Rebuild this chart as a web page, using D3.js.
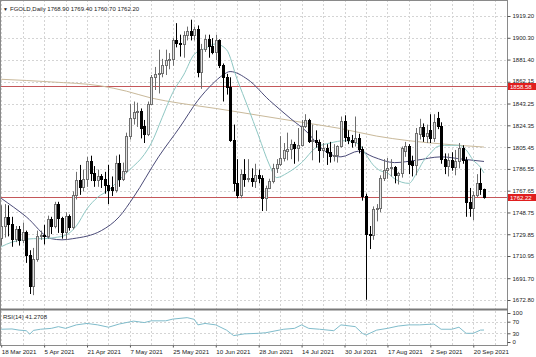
<!DOCTYPE html>
<html><head><meta charset="utf-8">
<script src="https://cdn.jsdelivr.net/npm/d3@7/dist/d3.min.js"></script>
<style>
body{margin:0;background:#fff}
svg{display:block}
text{font-family:"Liberation Sans",Arial,sans-serif}
</style>
</head><body>
<svg id="chart" width="536" height="357"></svg>
<script>
// ---------------- DATA ----------------
const symbolTitle = "FGOLD,Daily";
const lastBar = ["1768.90", "1769.40", "1760.70", "1762.20"];

const openP  = [1727,1737,1745,1739,1726,1734,1725,1732,1712,1685,1708,1728,1729,1728,1743,1737,1756,1744,1732,1746,
1736,1764,1777,1771,1778,1793,1783,1777,1780,1778,1773,1771,1768,1792,1778,1785,1815,1831,1836,1837,
1824,1817,1843,1866,1869,1870,1877,1881,1882,1898,1896,1895,1903,1906,1903,1908,1871,1891,1899,1893,
1888,1898,1877,1866,1858,1812,1774,1764,1782,1778,1779,1776,1781,1779,1761,1770,1776,1787,1791,1796,
1802,1804,1808,1805,1807,1824,1829,1811,1812,1810,1803,1805,1801,1798,1799,1806,1828,1814,1812,1810,
1813,1804,1763,1730,1729,1752,1753,1779,1786,1787,1788,1781,1783,1802,1806,1793,1790,1817,1823,1815,
1820,1813,1831,1824,1795,1789,1794,1788,1793,1805,1794,1758,1753,1764,1774,1768.9];
const highP  = [1755,1756,1755,1745,1737,1737,1740,1733,1716,1718,1733,1733,1738,1746,1745,1758,1758,1745,1749,1747,
1767,1784,1790,1786,1797,1798,1789,1786,1782,1784,1790,1780,1798,1799,1792,1818,1843,1845,1844,1839,
1829,1845,1868,1875,1890,1882,1890,1887,1900,1913,1903,1906,1910,1916,1910,1911,1895,1903,1903,1900,
1903,1899,1878,1869,1866,1825,1795,1786,1795,1795,1787,1791,1786,1781,1772,1778,1791,1795,1815,1809,
1818,1812,1810,1822,1829,1834,1830,1825,1820,1812,1809,1808,1810,1808,1807,1832,1833,1820,1816,1832,
1817,1806,1765,1737,1754,1756,1781,1795,1796,1795,1789,1784,1806,1810,1808,1798,1822,1830,1826,1825,
1834,1834,1836,1827,1800,1800,1801,1803,1809,1807,1797,1770,1767,1782,1787,1769.4];
const lowP   = [1720,1727,1728,1719,1723,1720,1722,1705,1678,1677,1706,1725,1721,1726,1730,1735,1731,1726,1725,1733,
1734,1760,1764,1767,1771,1776,1771,1771,1770,1765,1756,1763,1766,1771,1776,1783,1812,1825,1823,1813,
1809,1815,1842,1855,1852,1866,1868,1873,1876,1892,1884,1883,1898,1898,1898,1866,1856,1888,1883,1886,
1881,1874,1845,1851,1810,1767,1761,1761,1771,1775,1771,1770,1774,1750,1750,1769,1774,1783,1789,1793,
1794,1795,1791,1793,1806,1822,1809,1794,1805,1792,1796,1790,1792,1793,1792,1805,1810,1808,1805,1806,
1800,1759,1673,1717,1725,1741,1749,1776,1778,1780,1774,1773,1779,1797,1782,1780,1781,1812,1810,1809,
1809,1810,1821,1791,1782,1780,1785,1781,1787,1791,1745,1745,1742,1762,1764,1760.7];
const closeP = [1737,1745,1739,1726,1734,1725,1732,1712,1685,1708,1728,1729,1728,1743,1737,1756,1744,1732,1746,1736,
1764,1777,1771,1778,1793,1783,1777,1780,1778,1773,1768,1768,1792,1778,1785,1815,1831,1836,1837,1822,
1817,1843,1866,1869,1870,1877,1881,1882,1898,1896,1895,1903,1906,1903,1908,1871,1891,1899,1893,1888,
1898,1877,1866,1858,1812,1774,1764,1782,1778,1779,1776,1781,1779,1761,1770,1776,1787,1791,1796,1803,
1804,1808,1805,1807,1824,1829,1811,1812,1810,1803,1805,1801,1798,1799,1806,1828,1814,1812,1810,1813,
1804,1763,1730,1729,1752,1753,1779,1786,1787,1788,1781,1783,1805,1806,1791,1790,1818,1823,1815,1818,
1813,1827,1824,1795,1789,1794,1788,1793,1805,1794,1758,1753,1764,1774,1768.9,1762.2];

// fast moving average (teal) read at bar positions
const fastMaBar = [0,3,6,9,12,15,18,21,24,27,30,33,36,40,42,45,48,51,54,57,60,63,66,69,72,75,77,80,84,88,92,96,100,102,104,106,108,110,112,114,116,118,120,122,124,126,128,130,132,134,135];
const fastMaVal = [1719,1723,1725,1726,1726,1727,1729,1737,1752,1762,1768,1777,1786,1799,1809,1831,1853,1868,1886,1891,1895,1890,1864,1840,1815,1790,1779,1783,1792,1805,1809,1811,1808,1799,1790,1785,1783,1778,1775,1774,1782,1793,1800,1806,1807,1807,1807,1803,1794,1788,1783];

// medium moving average (dark blue)
const midMaBar = [0,7,14,17,20,28,33,37,44,50,55,59,62,64,69,75,81,86,89,95,100,104,110,116,123,129,135];
const midMaVal = [1761,1745,1726,1725,1726,1733,1745,1762,1797,1823,1846,1860,1868,1871,1864,1846,1830,1817,1806,1797,1802,1797,1792,1794,1797,1795,1793];

// slow moving average (tan)
const slowMaBar = [0,14,28,35,42,50,60,72,84,95,105,114,124,135];
const slowMaVal = [1864.3,1862,1858.5,1854,1848,1843.5,1839,1833,1827,1821.5,1815,1811,1808,1805.5];

// horizontal level lines
const levelLines = [1858.58, 1762.22];

// RSI(14)
const rsiBar = [0,3,5,7,8,9,11,14,16,18,21,24,27,30,33,37,40,42,46,48,52,54,55,57,60,63,65,68,72,74,79,82,84,86,89,93,95,99,101,102,105,108,111,114,117,121,123,126,128,130,132,134,135];
const rsiVal = [44,45,41,39,27,40,44,47,53,47,59,64,59,51,62,72,67,73,73,79,84,78,59,64,59,41,22,28,30,32,44,47,59,47,44,39,59,53,30,24,41,47,55,59,59,62,44,44,51,30,30,41,41.27];
const rsiLabel = "RSI(14) 41.2708";

// axis ticks
const priceTicks = [1919.20,1900.30,1881.40,1862.15,1843.25,1824.35,1805.45,1786.55,1767.65,1748.75,1729.85,1710.95,1691.70,1672.80];
const rsiTicks = [100,70,30,0];
const dateTickBar = [0,12,24,36,48,60,72,84,96,108,120,132];
const dateTickLabel = ["18 Mar 2021","5 Apr 2021","21 Apr 2021","7 May 2021","25 May 2021","10 Jun 2021","28 Jun 2021","14 Jul 2021","30 Jul 2021","17 Aug 2021","2 Sep 2021","20 Sep 2021"];

// ---------------- DRAW ----------------
const svg = d3.select("#chart");
const W = 536, H = 357;
const plotR = 507;          // right edge of plots (axis line)
const mainTop = 0, mainBot = 309;
const rsiTop = 311, rsiBot = 345;

const x = d3.scaleLinear().domain([0, 135]).range([1.2, 484]);
const y = d3.scaleLinear().domain([1672.8, 1919.2]).range([300, 16]);
const yr = d3.scaleLinear().domain([0, 100]).range([342, 313]);

svg.append("rect").attr("width", W).attr("height", H).attr("fill", "#fff");

const defs = svg.append("defs");
defs.append("clipPath").attr("id", "clipMain").append("rect")
  .attr("x", 0).attr("y", mainTop).attr("width", plotR).attr("height", mainBot - mainTop);
defs.append("clipPath").attr("id", "clipRsi").append("rect")
  .attr("x", 0).attr("y", rsiTop).attr("width", plotR).attr("height", rsiBot - rsiTop);

const gridColor = "#d4d4d4";
// vertical grid (every 6 bars)
const vGridBars = d3.range(0, 142, 6);
const grid = svg.append("g");
vGridBars.forEach(b => {
  const gx = Math.round(x(b)) + 0.5;
  [[mainTop, mainBot], [rsiTop, rsiBot]].forEach(([a, bb]) => {
    grid.append("line").attr("x1", gx).attr("x2", gx).attr("y1", a).attr("y2", bb)
      .attr("stroke", gridColor).attr("stroke-width", 1).attr("stroke-dasharray", "2,2");
  });
});
// horizontal grid
priceTicks.forEach(p => {
  const gy = Math.round(y(p)) + 0.5;
  grid.append("line").attr("x1", 0).attr("x2", plotR).attr("y1", gy).attr("y2", gy)
    .attr("stroke", gridColor).attr("stroke-width", 1).attr("stroke-dasharray", "2,2");
});
[70, 30].forEach(v => {
  const gy = Math.round(yr(v)) + 0.5;
  grid.append("line").attr("x1", 0).attr("x2", plotR).attr("y1", gy).attr("y2", gy)
    .attr("stroke", gridColor).attr("stroke-width", 1).attr("stroke-dasharray", "2,2");
});

const main = svg.append("g").attr("clip-path", "url(#clipMain)");

// level lines
levelLines.forEach(v => {
  main.append("line").attr("x1", 0).attr("x2", plotR)
    .attr("y1", Math.round(y(v)) + 0.5).attr("y2", Math.round(y(v)) + 0.5)
    .attr("stroke", "#c4575a").attr("stroke-width", 1);
});

// moving averages
function maLine(bars, vals, color, w) {
  const pts = bars.map((b, i) => [b, vals[i]]);
  main.append("path").datum(pts)
    .attr("d", d3.line().x(d => x(d[0])).y(d => y(d[1])).curve(d3.curveMonotoneX))
    .attr("fill", "none").attr("stroke", color).attr("stroke-width", w);
}
maLine(slowMaBar, slowMaVal, "#c9b99a", 1);
maLine(midMaBar, midMaVal, "#4b4b78", 1);
maLine(fastMaBar, fastMaVal, "#8fc7c3", 1);

// candles
const candles = main.append("g");
closeP.forEach((c, i) => {
  const o = openP[i], h = highP[i], l = lowP[i];
  const bull = c >= o;
  const rc = Math.round(x(i));
  candles.append("line")
    .attr("x1", rc + 0.5).attr("x2", rc + 0.5)
    .attr("y1", y(h)).attr("y2", y(l))
    .attr("stroke", bull ? "#6e6e6e" : "#000").attr("stroke-width", 1);
  const top = Math.round(y(Math.max(o, c))), bot = Math.round(y(Math.min(o, c)));
  candles.append("rect")
    .attr("x", rc - 0.5).attr("y", top + 0.5)
    .attr("width", 2).attr("height", Math.max(bot - top, 1))
    .attr("fill", bull ? "#e2e2e2" : "#000")
    .attr("stroke", bull ? "#6e6e6e" : "#000").attr("stroke-width", 1);
});

// RSI line
const rsiG = svg.append("g").attr("clip-path", "url(#clipRsi)");
rsiG.append("path").datum(rsiBar.map((b, i) => [b, rsiVal[i]]))
  .attr("d", d3.line().x(d => x(d[0])).y(d => yr(d[1])))
  .attr("fill", "none").attr("stroke", "#80bccb").attr("stroke-width", 1);

// frames
const frame = svg.append("g").attr("fill", "none").attr("stroke", "#8a8a8a");
frame.append("line").attr("x1", 0).attr("x2", plotR).attr("y1", 0.5).attr("y2", 0.5);
frame.append("line").attr("x1", 0.5).attr("x2", 0.5).attr("y1", 0).attr("y2", rsiBot);
frame.append("line").attr("x1", plotR + 0.5).attr("x2", plotR + 0.5).attr("y1", 0).attr("y2", rsiBot + 1);
frame.append("line").attr("x1", 0).attr("x2", plotR + 1).attr("y1", 309.5).attr("y2", 309.5).attr("stroke-width", 2).attr("stroke", "#7a7a7a");
frame.append("line").attr("x1", 0).attr("x2", plotR + 1).attr("y1", rsiBot + 0.5).attr("y2", rsiBot + 0.5);

// price axis
const priceAxis = d3.axisRight(y).tickValues(priceTicks).tickSize(3).tickPadding(2)
  .tickFormat(d => d.toFixed(2));
const pa = svg.append("g").attr("transform", `translate(${plotR + 0.5},0)`).call(priceAxis);
pa.select(".domain").remove();
pa.selectAll("line").attr("stroke", "#555");
pa.selectAll("text").attr("font-size", 6).attr("fill", "#222")
  .attr("font-family", "'Liberation Sans', Arial, sans-serif")
  .attr("dy", d => d === 1862.15 ? "0.05em" : "0.32em");

// level labels
levelLines.forEach(v => {
  const ly = Math.round(y(v));
  svg.append("rect").attr("x", plotR + 1).attr("y", ly - 3).attr("width", 28).attr("height", 7).attr("fill", "#e01e1e");
  svg.append("text").attr("x", plotR + 3).attr("y", ly + 2.6).attr("font-size", 6).attr("fill", "#fff")
    .text(v.toFixed(2));
});

// RSI axis
const rsiAxis = d3.axisRight(yr).tickValues(rsiTicks).tickSize(3).tickPadding(2).tickFormat(d3.format("d"));
const ra = svg.append("g").attr("transform", `translate(${plotR + 0.5},0)`).call(rsiAxis);
ra.select(".domain").remove();
ra.selectAll("line").attr("stroke", "#555");
ra.selectAll("text").attr("font-size", 6).attr("fill", "#222")
  .attr("font-family", "'Liberation Sans', Arial, sans-serif");

// date axis
const dateAxis = d3.axisBottom(x).tickValues(dateTickBar).tickSize(2).tickPadding(2)
  .tickFormat((d, i) => dateTickLabel[i]);
const da = svg.append("g").attr("transform", `translate(0,${rsiBot + 0.5})`).call(dateAxis);
da.select(".domain").remove();
da.selectAll("line").attr("stroke", "#555");
da.selectAll("text").attr("font-size", 6.2).attr("fill", "#222").attr("text-anchor", "start")
  .attr("font-family", "'Liberation Sans', Arial, sans-serif");

// header texts
svg.append("text").attr("x", 3).attr("y", 11).attr("font-size", 5).attr("fill", "#222").text("\u25BC");
svg.append("text").attr("x", 10).attr("y", 11).attr("font-size", 6).attr("fill", "#222")
  .text(symbolTitle + "  " + lastBar.join(" "));
svg.append("text").attr("x", 3).attr("y", 319).attr("font-size", 6).attr("fill", "#222").text(rsiLabel);
</script>
</body></html>
